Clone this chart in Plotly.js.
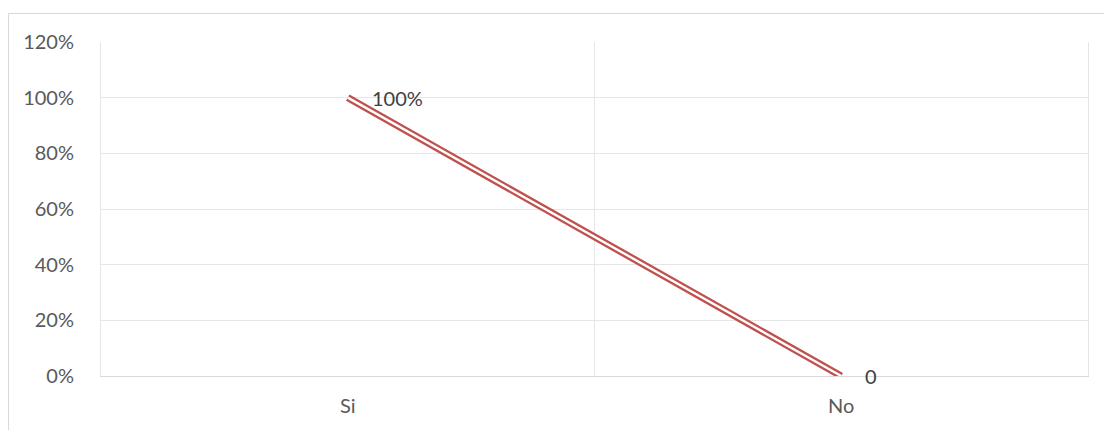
<!DOCTYPE html>
<html>
<head>
<meta charset="utf-8">
<script src="https://cdn.plot.ly/plotly-3.0.1.min.js"></script>
<style>
html,body{margin:0;padding:0;background:#fff;}
#chart{width:1104px;height:430px;position:relative;}
#frame{position:absolute;left:8px;top:13px;width:1100px;height:500px;border:1px solid #d9d9d9;pointer-events:none;box-sizing:border-box;}
</style>
</head>
<body>
<div style="position:relative;width:1104px;height:430px;overflow:hidden;">
<div id="chart"></div>
<div id="frame"></div>
</div>
<script>
const categories = ['Si', 'No'];
const values = [1, 0];
const pointLabels = ['100%', '0'];
const yTickVals = [0, 0.2, 0.4, 0.6, 0.8, 1.0, 1.2];
const yTickText = ['0%', '20%', '40%', '60%', '80%', '100%', '120%'];

const red = '#c0504d';
const traces = [
  {x: categories, y: values, type: 'scatter', mode: 'lines',
   line: {color: red, width: 7}, hoverinfo: 'skip', showlegend: false},
  {x: categories, y: values, type: 'scatter', mode: 'lines',
   line: {color: '#ffffff', width: 2.4}, hoverinfo: 'skip', showlegend: false}
];

const annotations = categories.map((c, i) => ({
  x: c, y: values[i], xref: 'x', yref: 'y', text: pointLabels[i],
  showarrow: false, xanchor: 'left', yanchor: 'middle', xshift: 22, yshift: 0,
  font: {family: 'Lato, Carlito, sans-serif', size: 20, color: '#404040'}
}));

const layout = {
  width: 1104, height: 430,
  margin: {l: 101, r: 16, t: 42, b: 54},
  paper_bgcolor: 'rgba(0,0,0,0)', plot_bgcolor: '#ffffff',
  font: {family: 'Lato, Carlito, sans-serif', size: 20, color: '#595959'},
  xaxis: {
    type: 'category', tickson: 'boundaries', range: [-0.5, 1.5], showgrid: true, gridcolor: '#e6e6e6', gridwidth: 1,
    showline: true, linecolor: '#d9d9d9', linewidth: 1, ticks: '', zeroline: false,
    ticklabelstandoff: 12, fixedrange: true
  },
  yaxis: {
    range: [0, 1.2], tickvals: yTickVals, ticktext: yTickText,
    showgrid: true, gridcolor: '#e6e6e6', gridwidth: 1, zeroline: false,
    showline: true, mirror: true, linecolor: '#e6e6e6', linewidth: 1,
    ticks: '', ticklabelstandoff: 22, fixedrange: true
  },
  annotations: annotations,
  showlegend: false
};

Plotly.newPlot('chart', traces, layout, {displayModeBar: false, staticPlot: true});
</script>
</body>
</html>
